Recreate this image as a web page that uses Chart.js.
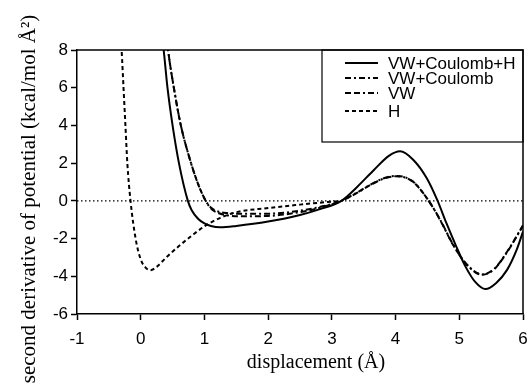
<!DOCTYPE html>
<html>
<head>
<meta charset="utf-8">
<script src="https://cdn.jsdelivr.net/npm/chart.js@4.4.0/dist/chart.umd.min.js"></script>
<style>
  html, body { margin: 0; padding: 0; background: #fff; }
</style>
</head>
<body>
<canvas id="myChart" width="529" height="387"></canvas>
<script>
// data
var seriesNames = ['VW+Coulomb+H', 'VW+Coulomb', 'VW', 'H'];

var allX = [0.32, 0.36, 0.42, 0.50, 0.60, 0.74, 0.80, 0.90, 1.00, 1.10, 1.25, 1.50, 2.00, 2.50, 2.80, 3.15, 3.40, 3.66, 3.90, 4.07, 4.28, 4.49, 4.66, 4.80, 4.95, 5.10, 5.25, 5.41, 5.58, 5.75, 5.90, 6.00];
var allY = [9.0, 8.0, 6.0, 4.0, 2.0, 0.0, -0.5, -0.95, -1.2, -1.33, -1.40, -1.33, -1.10, -0.75, -0.45, 0.0, 0.75, 1.64, 2.40, 2.63, 2.17, 1.2, 0.0, -1.2, -2.4, -3.5, -4.3, -4.68, -4.35, -3.66, -2.60, -1.63];

var vwcX = [0.40, 0.43, 0.52, 0.63, 0.79, 0.90, 1.02, 1.10, 1.20, 1.35, 1.60, 2.00, 2.50, 2.80, 3.15, 3.40, 3.60, 3.80, 4.00, 4.15, 4.30, 4.52, 4.70, 4.90, 5.10, 5.36, 5.55, 5.75, 6.00];
var vwcY = [9.0, 8.0, 6.0, 4.0, 2.0, 0.9, 0.0, -0.35, -0.55, -0.65, -0.68, -0.68, -0.52, -0.33, 0.0, 0.45, 0.85, 1.18, 1.32, 1.25, 0.95, 0.0, -1.0, -2.3, -3.3, -3.9, -3.6, -2.7, -1.3];

var vwX = [0.40, 0.43, 0.52, 0.63, 0.79, 0.90, 1.02, 1.10, 1.20, 1.35, 1.60, 2.00, 2.50, 2.80, 3.15, 3.40, 3.60, 3.80, 4.00, 4.15, 4.30, 4.52, 4.70, 4.90, 5.10, 5.36, 5.55, 5.75, 6.00];
var vwY = [9.0, 8.0, 6.0, 4.0, 2.0, 0.9, 0.0, -0.4, -0.62, -0.76, -0.82, -0.80, -0.60, -0.38, 0.0, 0.43, 0.83, 1.16, 1.30, 1.24, 0.93, 0.0, -1.02, -2.32, -3.32, -3.92, -3.62, -2.72, -1.32];

var hX = [-0.32, -0.30, -0.27, -0.24, -0.21, -0.16, -0.08, 0.00, 0.08, 0.15, 0.25, 0.40, 0.60, 0.80, 1.00, 1.25, 1.50, 2.00, 2.50, 2.80, 3.15];
var hY = [9.0, 8.0, 6.0, 4.0, 2.0, 0.0, -2.0, -3.1, -3.55, -3.68, -3.5, -3.0, -2.4, -1.85, -1.35, -0.9, -0.6, -0.38, -0.2, -0.1, 0.0];

var zeroX = [-1, 6];
var zeroY = [0, 0];

var xTicks = [-1, 0, 1, 2, 3, 4, 5, 6];
var yTicks = [-6, -4, -2, 0, 2, 4, 6, 8];

var xTitle = 'displacement (Å)';
var yTitle = 'second derivative of potential (kcal/mol Å²)';

function pts(xs, ys) {
    return xs.map(function (x, i) { return { x: x, y: ys[i] }; });
}

function lineSet(label, xs, ys, dash, width) {
    return {
        label: label,
        data: pts(xs, ys),
        borderColor: '#000',
        backgroundColor: '#000',
        borderWidth: width,
        borderDash: dash,
        pointRadius: 0,
        cubicInterpolationMode: 'monotone',
        fill: false,
        clip: 0
    };
}

// frame on top/right, legend box and axis titles
var extras = {
    id: 'extras',
    afterDraw: function (chart) {
        var ctx = chart.ctx;
        var a = chart.chartArea;
        ctx.save();
        ctx.strokeStyle = '#000';
        ctx.lineWidth = 1.5;
        ctx.setLineDash([]);
        ctx.beginPath();
        ctx.moveTo(a.left, a.top);
        ctx.lineTo(a.right, a.top);
        ctx.lineTo(a.right, a.bottom);
        ctx.stroke();

        // legend
        ctx.lineWidth = 1.2;
        ctx.strokeRect(322, a.top, a.right - 322, 92);
        var rows = [63, 78, 93, 111];
        ctx.font = '17px "Liberation Sans", Arial, sans-serif';
        ctx.fillStyle = '#000';
        ctx.textAlign = 'left';
        ctx.textBaseline = 'middle';
        for (var i = 0; i < 4; i++) {
            var ds = chart.data.datasets[i];
            ctx.lineWidth = ds.borderWidth;
            ctx.setLineDash(ds.borderDash || []);
            ctx.beginPath();
            ctx.moveTo(345, rows[i]);
            ctx.lineTo(378, rows[i]);
            ctx.stroke();
            ctx.fillText(ds.label, 388, rows[i] + 1);
        }
        ctx.setLineDash([]);

        // axis titles
        ctx.textAlign = 'center';
        ctx.textBaseline = 'alphabetic';
        ctx.font = '20px "Liberation Serif", "Times New Roman", serif';
        ctx.fillText(xTitle, 316, 368);
        ctx.font = '21px "Liberation Serif", "Times New Roman", serif';
        ctx.translate(35, 199);
        ctx.rotate(-Math.PI / 2);
        ctx.fillText(yTitle, 0, 0);
        ctx.restore();
    }
};

var tickFont = { family: '"Liberation Sans", Arial, sans-serif', size: 17 };

var ctx1 = document.getElementById('myChart');
var chart = new Chart(ctx1, {
    type: 'line',
    data: {
        datasets: [
            lineSet(seriesNames[0], allX, allY, [], 2),
            lineSet(seriesNames[1], vwcX, vwcY, [6, 3, 2, 3], 2),
            lineSet(seriesNames[2], vwX, vwY, [6, 3, 6, 3, 2, 3], 2),
            lineSet(seriesNames[3], hX, hY, [4, 3], 2),
            Object.assign(lineSet('zero', zeroX, zeroY, [1.5, 2.5], 1.2), { cubicInterpolationMode: 'default' })
        ]
    },
    options: {
        responsive: false,
        animation: false,
        layout: { padding: { left: 0, right: 6, top: 50, bottom: 0 } },
        plugins: {
            legend: { display: false },
            tooltip: { enabled: false }
        },
        scales: {
            x: {
                type: 'linear',
                min: -1,
                max: 6,
                afterBuildTicks: function (scale) {
                    scale.ticks = xTicks.map(function (v) { return { value: v }; });
                },
                afterFit: function (scale) {
                    scale.height = 73;
                    scale.paddingLeft = 0;
                    scale.paddingRight = 0;
                },
                ticks: { color: '#000', font: tickFont, padding: 9, maxRotation: 0, autoSkip: false },
                grid: { drawOnChartArea: false, drawTicks: true, tickLength: 6, tickColor: '#000', tickWidth: 1.5 },
                border: { color: '#000', width: 1.5 }
            },
            y: {
                min: -6,
                max: 8,
                afterBuildTicks: function (scale) {
                    scale.ticks = yTicks.map(function (v) { return { value: v }; });
                },
                afterFit: function (scale) {
                    scale.width = 77;
                    scale.paddingTop = 0;
                    scale.paddingBottom = 0;
                },
                ticks: { color: '#000', font: tickFont, padding: 3, autoSkip: false },
                grid: { drawOnChartArea: false, drawTicks: true, tickLength: 6, tickColor: '#000', tickWidth: 1.5 },
                border: { color: '#000', width: 1.5 }
            }
        }
    },
    plugins: [extras]
});
</script>
</body>
</html>
